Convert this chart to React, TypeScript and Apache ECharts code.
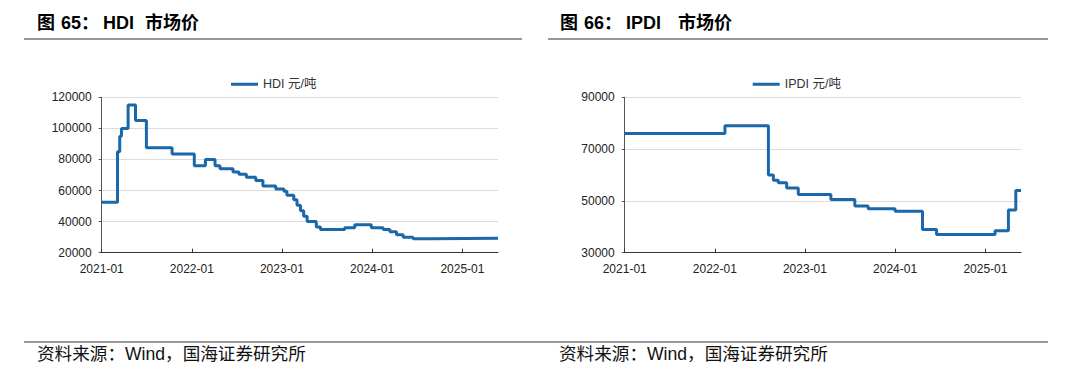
import React, { useEffect, useRef } from "react";
import * as echarts from "echarts";

// HDI market price (元/吨): [date of change, new price]
const hdiDates = [
  "2021-01-01", "2021-03-06", "2021-03-15", "2021-03-22", "2021-04-18", "2021-05-18",
  "2021-07-01", "2021-10-13", "2022-01-11", "2022-02-25", "2022-04-05", "2022-04-25",
  "2022-06-17", "2022-07-11", "2022-08-10", "2022-09-17", "2022-10-16", "2022-12-07",
  "2023-01-09", "2023-01-21", "2023-02-18", "2023-03-03", "2023-03-17", "2023-03-30",
  "2023-04-13", "2023-05-20", "2023-06-06", "2023-09-12", "2023-10-23", "2023-12-29",
  "2024-02-15", "2024-03-13", "2024-04-09", "2024-05-06", "2024-06-15", "2024-08-29",
  "2025-05-25",
];
const hdiValues = [
  52500, 85000, 95000, 100000, 115000, 105000,
  87500, 83500, 76000, 80000, 76000, 74000,
  72000, 70500, 68500, 66500, 63000, 61000,
  59500, 57000, 54000, 50500, 47000, 43500,
  40000, 36500, 35000, 36000, 38000, 36000,
  35000, 33500, 31500, 30000, 29000, 29300,
  29300,
];

// IPDI market price (元/吨)
const ipdiDates = [
  "2021-01-01", "2022-02-11", "2022-08-06", "2022-08-26", "2022-09-15", "2022-10-19",
  "2022-12-05", "2023-04-16", "2023-07-22", "2023-09-14", "2024-01-01", "2024-04-21",
  "2024-06-17", "2025-02-09", "2025-04-04", "2025-05-04", "2025-05-25",
];
const ipdiValues = [
  76000, 79000, 60000, 58000, 57000, 55000,
  52500, 50500, 48000, 47000, 46000, 39000,
  37000, 38500, 46500, 54000, 54000,
];

const xTickDates = ["2021-01-01", "2022-01-01", "2023-01-01", "2024-01-01", "2025-01-01"];
const xMin = "2021-01-01";
const xMax = "2025-05-25";

const hdiYAxis = { min: 20000, max: 120000, interval: 20000 };
const ipdiYAxis = { min: 30000, max: 90000, interval: 20000 };

const ts = (s: string) => {
  const [y, m, d] = s.split("-").map(Number);
  return new Date(y, m - 1, d).getTime();
};

const LINE_COLOR = "#1a67a9";
const LATIN = "'Liberation Sans', Arial, 'Noto Sans CJK SC', sans-serif";

export default function App() {
  const ref = useRef<HTMLDivElement>(null);

  useEffect(() => {
    if (!ref.current) return;
    const chart = echarts.init(ref.current, null, { renderer: "svg" });

    const tickVals = xTickDates.map(ts);
    const makeX = (gridIndex: number) => ({
      type: "value",
      gridIndex,
      min: ts(xMin),
      max: ts(xMax),
      axisLine: { show: true, onZero: false, lineStyle: { color: "#333", width: 1 } },
      axisTick: {
        show: true,
        inside: true,
        length: 4,
        customValues: tickVals,
        lineStyle: { color: "#333" },
      },
      axisLabel: {
        customValues: tickVals,
        color: "#222",
        fontSize: 12,
        fontFamily: LATIN,
        margin: 10,
        formatter: (v: number) => {
          const d = new Date(v);
          const m = d.getMonth() + 1;
          return d.getFullYear() + "-" + (m < 10 ? "0" + m : m);
        },
      },
      splitLine: { show: false },
    });
    const makeY = (gridIndex: number, cfg: { min: number; max: number; interval: number }) => ({
      type: "value",
      gridIndex,
      min: cfg.min,
      max: cfg.max,
      interval: cfg.interval,
      axisLine: { show: true, lineStyle: { color: "#555", width: 1 } },
      axisTick: { show: true, length: 3, lineStyle: { color: "#555" } },
      axisLabel: {
        color: "#222",
        fontSize: 12,
        fontFamily: LATIN,
        margin: 10,
        formatter: (v: number) => String(v),
      },
      splitLine: { show: true, lineStyle: { color: "#dcdcdc", width: 1 } },
    });

    const titleStyle = {
      fill: "#000",
      fontSize: 18,
      fontWeight: "bold",
      fontFamily: LATIN,
    };
    const srcStyle = {
      fill: "#111",
      fontSize: 17.6,
      fontFamily: LATIN,
    };

    chart.setOption({
      animation: false,
      backgroundColor: "#fff",
      grid: [
        { left: 101.7, right: 576, top: 97.3, bottom: 125.3 },
        { left: 624.7, right: 53, top: 97.3, bottom: 125.3 },
      ],
      legend: [
        {
          left: 231,
          top: 78,
          padding: 0,
          icon: "rect",
          itemWidth: 27,
          itemHeight: 3,
          textStyle: { fontSize: 12.5, color: "#333", fontFamily: LATIN },
          data: ["HDI 元/吨"],
        },
        {
          left: 752.7,
          top: 78,
          padding: 0,
          icon: "rect",
          itemWidth: 27,
          itemHeight: 3,
          textStyle: { fontSize: 12.5, color: "#333", fontFamily: LATIN },
          data: ["IPDI 元/吨"],
        },
      ],
      xAxis: [makeX(0), makeX(1)],
      yAxis: [makeY(0, hdiYAxis), makeY(1, ipdiYAxis)],
      series: [
        {
          name: "HDI 元/吨",
          type: "line",
          xAxisIndex: 0,
          yAxisIndex: 0,
          step: "end",
          symbol: "none",
          color: LINE_COLOR,
          lineStyle: { width: 3, color: LINE_COLOR },
          data: hdiDates.map((d, i) => [ts(d), hdiValues[i]]),
        },
        {
          name: "IPDI 元/吨",
          type: "line",
          xAxisIndex: 1,
          yAxisIndex: 1,
          step: "end",
          symbol: "none",
          color: LINE_COLOR,
          lineStyle: { width: 3, color: LINE_COLOR },
          data: ipdiDates.map((d, i) => [ts(d), ipdiValues[i]]),
        },
      ],
      graphic: [
        { type: "text", left: 37, top: 14, style: { ...titleStyle, text: "图" } },
        { type: "text", left: 61, top: 14, style: { ...titleStyle, text: "65：" } },
        { type: "text", left: 103, top: 14, style: { ...titleStyle, text: "HDI" } },
        { type: "text", left: 145, top: 14, style: { ...titleStyle, text: "市场价" } },
        { type: "text", left: 560, top: 14, style: { ...titleStyle, text: "图" } },
        { type: "text", left: 584, top: 14, style: { ...titleStyle, text: "66：" } },
        { type: "text", left: 626, top: 14, style: { ...titleStyle, text: "IPDI" } },
        { type: "text", left: 678, top: 14, style: { ...titleStyle, text: "市场价" } },
        {
          type: "line",
          shape: { x1: 24, y1: 39, x2: 522, y2: 39 },
          style: { stroke: "#777", lineWidth: 1.5 },
        },
        {
          type: "line",
          shape: { x1: 548, y1: 39, x2: 1048, y2: 39 },
          style: { stroke: "#777", lineWidth: 1.5 },
        },
        {
          type: "line",
          shape: { x1: 24, y1: 342, x2: 1048, y2: 342 },
          style: { stroke: "#777", lineWidth: 1.5 },
        },
        { type: "text", left: 37, top: 345, style: { ...srcStyle, text: "资料来源：Wind，国海证券研究所" } },
        { type: "text", left: 559, top: 345, style: { ...srcStyle, text: "资料来源：Wind，国海证券研究所" } },
      ],
    });

    return () => chart.dispose();
  }, []);

  return (
    <div
      ref={ref}
      style={{ position: "absolute", left: 0, top: 0, width: 1074, height: 378, background: "#fff" }}
    />
  );
}
